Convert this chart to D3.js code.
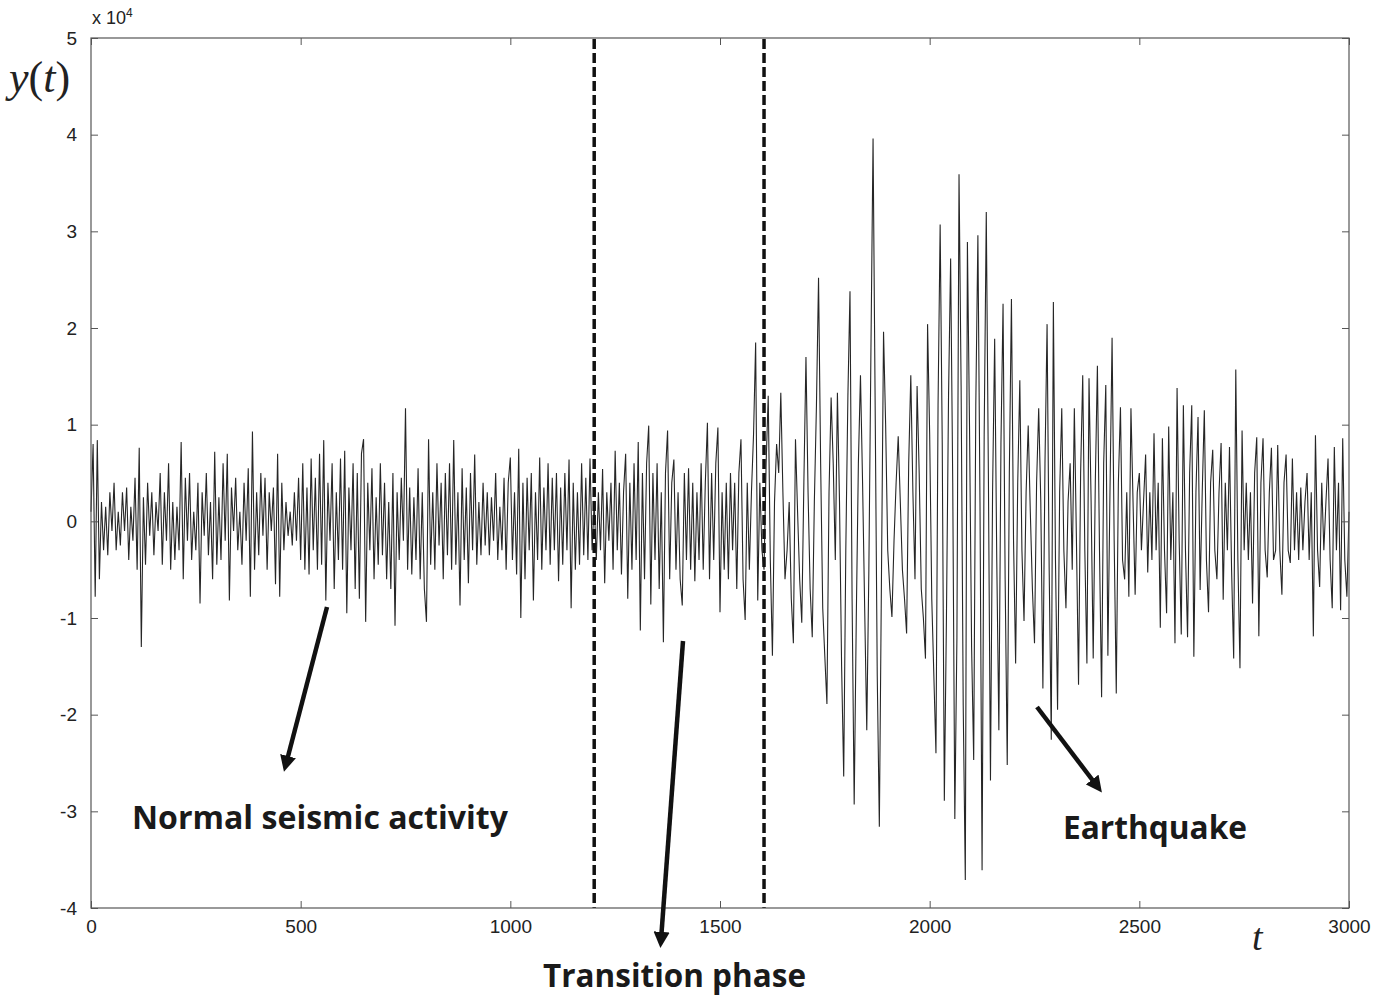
<!DOCTYPE html>
<html>
<head>
<meta charset="utf-8">
<script src="https://cdn.jsdelivr.net/npm/d3@7"></script>
<style>
  body { margin: 0; background: #fff; }
  svg { display: block; }
</style>
</head>
<body>
<div id="chart"></div>
<script>
// sample step of the trace (t units) and values in units of 10^4
var step = 5;

// t = 0 .. 1195
var normalPhase = [
  0.1, 0.8, -0.78, 0.84, -0.6, 0.2, -0.3, 0.15, -0.35, 0.3,
  -0.1, 0.4, -0.3, 0.1, -0.25, 0.3, -0.1, 0.35, -0.4, 0.15,
  -0.2, 0.45, -0.5, 0.76, -1.3, 0.25, -0.45, 0.4, -0.15, 0.3,
  -0.35, 0.2, -0.1, 0.5, -0.45, 0.3, -0.2, 0.6, -0.5, 0.2,
  -0.4, 0.15, -0.3, 0.82, -0.6, 0.45, -0.2, 0.5, -0.4, 0.1,
  -0.3, 0.4, -0.85, 0.3, -0.15, 0.5, -0.35, 0.2, -0.6, 0.72,
  -0.45, 0.25, -0.4, 0.6, -0.2, 0.7, -0.82, 0.35, -0.1, 0.45,
  -0.3, 0.1, -0.45, 0.4, -0.2, 0.55, -0.78, 0.93, -0.5, 0.3,
  -0.35, 0.5, -0.15, 0.45, -0.5, 0.3, -0.1, 0.35, -0.65, 0.7,
  -0.78, 0.4, -0.3, 0.2, -0.15, 0.1, -0.25, 0.3, -0.2, 0.45,
  -0.4, 0.6, -0.5, 0.35, -0.55, 0.65, -0.3, 0.45, -0.5, 0.7,
  -0.45, 0.84, -0.82, 0.4, -0.2, 0.6, -0.7, 0.3, -0.4, 0.65,
  -0.5, 0.73, -0.95, 0.35, -0.3, 0.6, -0.7, 0.5, -0.8, 0.7,
  0.85, -1.04, 0.4, -0.3, 0.55, -0.6, 0.25, -0.45, 0.6, -0.35,
  0.4, -0.6, 0.2, -0.7, 0.5, -1.08, 0.3, -0.4, 0.45, -0.2,
  1.17, -0.5, 0.35, -0.55, 0.25, -0.4, 0.55, -0.6, 0.3, -0.7,
  -1.04, 0.85, -0.45, 0.3, -0.5, 0.6, -0.25, 0.4, -0.6, 0.5,
  -0.35, 0.6, -0.5, 0.84, -0.45, 0.3, -0.87, 0.55, -0.4, 0.35,
  -0.64, 0.5, -0.3, 0.69, -0.45, 0.2, -0.35, 0.4, -0.25, 0.3,
  -0.35, 0.25, -0.2, 0.5, -0.4, 0.15, -0.3, 0.45, -0.5, 0.4,
  0.66, -0.4, 0.3, -0.55, 0.75, -1.0, 0.4, -0.6, 0.45, -0.3,
  0.5, -0.82, 0.3, -0.4, 0.66, -0.5, 0.35, -0.3, 0.6, -0.45,
  0.45, -0.3, 0.5, -0.62, 0.35, -0.45, 0.5, -0.3, 0.64, -0.9,
  0.4, -0.5, 0.3, -0.45, 0.6, -0.35, 0.45, -0.4, 0.65, -0.3
];

// t = 1200 .. 1600
var transitionPhase = [
  0.2, -0.4, 0.3, -0.3, 0.54, -0.64, 0.3, -0.2, 0.4, -0.5,
  0.73, -0.3, 0.4, -0.55, 0.3, 0.7, -0.8, 0.4, -0.5, 0.6,
  -0.4, 0.82, -1.13, 0.5, -0.6, 0.6, 0.99, -0.86, 0.5, -0.4,
  0.6, -0.7, 0.3, -1.25, 0.5, 0.94, -0.6, 0.4, 0.64, -0.5,
  0.3, -0.6, -0.87, 0.5, -0.4, 0.55, -0.5, 0.4, -0.62, 0.3,
  -0.4, 0.6, -0.5, 0.4, 1.02, -0.6, 0.5, -0.4, 0.6, 0.97,
  -0.94, 0.3, -0.5, 0.4, -0.6, 0.5, -0.3, 0.4, -0.7, 0.5,
  0.85, -0.6, -1.02, 0.4, -0.5, 0.3, 0.9, 1.85, -0.82, 0.4,
  -0.3
];

// t = 1605 .. 3000
var quakePhase = [
  -0.5, 0.6, 1.3, -0.4, -1.39, 0.2, 0.8, 0.5, 1.33, 0.3,
  -0.6, -0.3, 0.2, -0.8, -1.26, 0.85, 0.1, -0.6, -1.05, 0.4,
  1.7, 0.3, -0.7, -1.2, 0.2, 1.2, 2.52, 0.6, -0.9, -1.4,
  -1.89, 0.3, 1.28, 0.6, -0.4, 1.33, 0.2, -1.5, -2.64, -0.3,
  1.3, 2.38, -0.8, -2.93, -1.0, 0.6, 1.51, 0.4, -0.9, -2.16,
  -0.5, 1.8, 3.96, 1.2, -1.6, -3.16, -0.6, 1.96, 1.0, -0.3,
  -0.7, -0.99, -0.2, 0.4, 0.88, 0.2, -0.5, -0.8, -1.16, 0.6,
  1.51, 0.3, -0.6, 1.4, 0.5, -0.7, -1.0, -1.42, 2.04, 0.9,
  -0.8, -1.6, -2.4, 1.2, 3.07, 0.8, -2.89, -1.0, 1.3, 2.72,
  0.4, -3.08, -1.2, 3.59, 1.4, -1.9, -3.71, 2.89, 1.0, -1.3,
  -2.47, 1.2, 2.96, 0.2, -3.61, 0.9, 3.2, 0.5, -2.68, 0.3,
  1.89, -0.4, -2.16, 0.8, 2.25, -0.6, -2.52, 0.5, 2.3, -0.2,
  -1.47, 0.4, 1.46, -0.3, -1.03, 0.3, 0.99, 0.1, -0.7, -1.26,
  0.4, 1.17, 0.2, -1.73, 0.6, 2.04, -0.5, -2.26, 2.27, -0.4,
  -1.95, 0.3, 1.17, -0.3, -0.9, 0.2, 0.6, -0.5, 1.17, -0.2,
  -1.69, 0.5, 1.51, -0.3, -1.47, 1.48, 0.2, -1.42, 0.4, 1.61,
  -0.3, -1.82, 0.6, 1.41, -1.39, 0.3, 1.9, -0.2, -1.78, 0.4,
  1.18, -0.4, -0.6, 0.3, -0.78, 1.17, 0.2, -0.76, 0.3, 0.5,
  -0.3, 0.2, 0.69, -0.53, 0.3, -0.4, 0.91, -0.3, 0.4, -1.1,
  0.86, -0.3, -0.95, 0.98, -0.4, 0.3, -1.26, 1.38, -0.2, -1.17,
  1.2, -0.3, -1.2, 0.5, 1.2, -1.4, 0.3, 1.08, -0.71, 0.3,
  1.15, -0.4, -0.94, 0.4, 0.74, -0.3, -0.6, 0.3, 0.81, -0.81,
  0.4, -0.3, 0.77, -0.5, -1.42, 1.57, -0.4, -1.52, 0.94, -0.3,
  0.4, -0.4, 0.3, -0.85, 0.5, 0.87, -1.19, 0.4, 0.86, -0.3,
  -0.58, 0.3, 0.76, -0.4, -0.3, 0.79, -0.3, -0.76, 0.4, 0.69,
  -0.3, -0.43, 0.65, -0.3, 0.3, -0.4, 0.35, -0.3, 0.2, 0.5,
  -0.4, 0.3, -1.19, 0.89, -0.3, -0.68, 0.4, -0.3, 0.2, 0.65,
  -0.4, -0.9, 0.77, -0.3, 0.4, -0.92, 0.86, -0.4, -0.78, 0.1
];

var phaseBounds = [1200, 1605];
var xTicks = [0, 500, 1000, 1500, 2000, 2500, 3000];
var yTicks = [-4, -3, -2, -1, 0, 1, 2, 3, 4, 5];

var series = normalPhase.concat(transitionPhase, quakePhase)
  .map(function (v, i) { return { t: i * step, y: v }; });

var W = 1389, H = 996;
var margin = { top: 38, right: 40, bottom: 88, left: 91 };
var width = W - margin.left - margin.right,
    height = H - margin.top - margin.bottom;

var svg = d3.select("#chart").append("svg")
  .attr("width", W)
  .attr("height", H);

var g = svg.append("g")
  .attr("transform", `translate(${margin.left},${margin.top})`);

var x = d3.scaleLinear().domain([0, 3000]).range([0, width]);
var y = d3.scaleLinear().domain([-4, 5]).range([height, 0]);

// the trace
var line = d3.line()
  .x(function (d) { return x(d.t); })
  .y(function (d) { return y(d.y); });

g.append("path")
  .datum(series)
  .attr("fill", "none")
  .attr("stroke", "#262626")
  .attr("stroke-width", 1.1)
  .attr("d", line);

// dashed phase boundaries
g.selectAll(".bound")
  .data(phaseBounds)
  .enter().append("line")
  .attr("class", "bound")
  .attr("x1", function (d) { return x(d); })
  .attr("x2", function (d) { return x(d); })
  .attr("y1", 1)
  .attr("y2", height)
  .attr("stroke", "#111")
  .attr("stroke-width", 3.5)
  .attr("stroke-dasharray", "10,4");

// axes, matlab style: ticks inside on every side
var tickLen = 7;
var axisColor = "#555";
var plain = function (d) { return String(d); };
function styleAxis(sel) {
  sel.attr("font-size", null).attr("font-family", null);
  sel.select(".domain").remove();
  sel.selectAll("line").attr("stroke", axisColor);
  sel.selectAll("text")
    .attr("fill", "#222")
    .attr("font-family", "Liberation Sans, Arial, sans-serif")
    .attr("font-size", 19);
}

g.append("g")
  .attr("transform", `translate(0,${height})`)
  .call(d3.axisBottom(x).tickValues(xTicks).tickFormat(plain).tickSizeInner(-tickLen).tickPadding(12).tickSizeOuter(0))
  .call(styleAxis);
g.append("g")
  .call(d3.axisTop(x).tickValues(xTicks).tickSizeInner(-tickLen).tickFormat("").tickSizeOuter(0))
  .call(styleAxis);
g.append("g")
  .call(d3.axisLeft(y).tickValues(yTicks).tickFormat(plain).tickSizeInner(-tickLen).tickPadding(14).tickSizeOuter(0))
  .call(styleAxis);
g.append("g")
  .attr("transform", `translate(${width},0)`)
  .call(d3.axisRight(y).tickValues(yTicks).tickSizeInner(-tickLen).tickFormat("").tickSizeOuter(0))
  .call(styleAxis);

g.append("rect")
  .attr("width", width)
  .attr("height", height)
  .attr("fill", "none")
  .attr("stroke", axisColor)
  .attr("stroke-width", 1.2);

// exponent label
var expo = g.append("text")
  .attr("x", 1)
  .attr("y", -14)
  .attr("fill", "#222")
  .attr("font-family", "Liberation Sans, Arial, sans-serif")
  .attr("font-size", 18);
expo.append("tspan").text("x 10");
expo.append("tspan").attr("dy", -7).attr("font-size", 12).text("4");

// axis titles
svg.append("text")
  .attr("x", 9)
  .attr("y", 92)
  .attr("fill", "#222")
  .style("font-family", "Liberation Serif, Times New Roman, serif")
  .style("font-size", "44px")
  .html('<tspan font-style="italic">y</tspan>(<tspan font-style="italic">t</tspan>)');

svg.append("text")
  .attr("x", 1252)
  .attr("y", 950)
  .attr("fill", "#222")
  .style("font-family", "Liberation Serif, Times New Roman, serif")
  .style("font-style", "italic")
  .style("font-size", "38px")
  .text("t");

// annotations
svg.append("defs").append("marker")
  .attr("id", "head")
  .attr("viewBox", "0 0 10 10")
  .attr("refX", 5).attr("refY", 5)
  .attr("markerWidth", 3.6).attr("markerHeight", 3.6)
  .attr("markerUnits", "strokeWidth")
  .attr("orient", "auto")
  .append("path")
  .attr("d", "M0,0 L10,5 L0,10 Z")
  .attr("fill", "#111");

var arrows = [
  { x1: 327, y1: 607, x2: 286, y2: 764 },
  { x1: 683, y1: 641, x2: 661, y2: 940 },
  { x1: 1037, y1: 707, x2: 1097, y2: 786 }
];
svg.selectAll(".arrow")
  .data(arrows)
  .enter().append("line")
  .attr("class", "arrow")
  .attr("x1", function (d) { return d.x1; })
  .attr("y1", function (d) { return d.y1; })
  .attr("x2", function (d) { return d.x2; })
  .attr("y2", function (d) { return d.y2; })
  .attr("stroke", "#111")
  .attr("stroke-width", 4.5)
  .attr("marker-end", "url(#head)");

var labels = [
  { text: "Normal seismic activity", x: 132, y: 829, w: 376 },
  { text: "Transition phase", x: 543, y: 987, w: 263 },
  { text: "Earthquake", x: 1063, y: 839, w: 184 }
];
svg.selectAll(".label")
  .data(labels)
  .enter().append("text")
  .attr("class", "label")
  .attr("x", function (d) { return d.x; })
  .attr("y", function (d) { return d.y; })
  .attr("textLength", function (d) { return d.w; })
  .attr("lengthAdjust", "spacingAndGlyphs")
  .attr("fill", "#1a1a1a")
  .style("font-family", "Open Sans, sans-serif")
  .style("font-weight", "bold")
  .style("font-size", "32px")
  .text(function (d) { return d.text; });
</script>
</body>
</html>
